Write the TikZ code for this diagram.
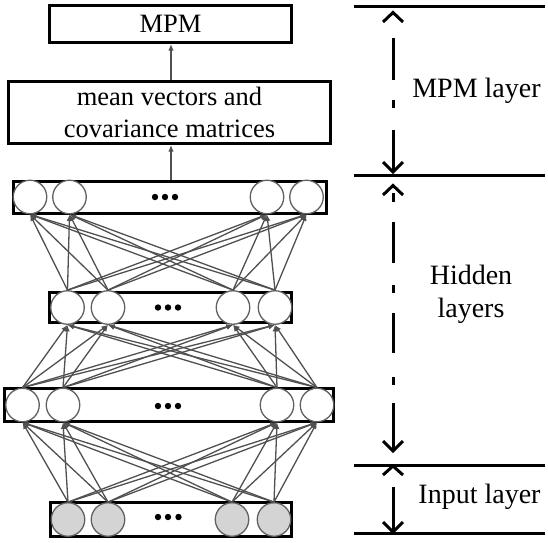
\documentclass[tikz,border=0pt]{standalone}
\usepackage{fontspec}
\setmainfont{Liberation Serif}
\usetikzlibrary{arrows.meta}
\definecolor{linkgray}{HTML}{505050}
\definecolor{nodegray}{HTML}{606060}
\definecolor{inputfill}{HTML}{D4D4D4}
\tikzset{
  layerbox/.style={draw=black, line width=3pt, inner sep=0pt, fill=white},
  textbox/.style={layerbox, font=\fontsize{26.5}{32}\selectfont, align=center},
  neuron/.style={circle, draw=nodegray, line width=1.3pt, minimum size=33.5pt, inner sep=0pt, fill=white},
  inneuron/.style={neuron, fill=inputfill},
  conn/.style={draw=linkgray, line width=1.3pt, -{Latex[length=6.5pt,width=5.5pt]}},
  sepline/.style={draw=black, line width=3pt},
  dimline/.style={draw=black, line width=3pt},
  chev/.style={draw=black, line width=3pt, line join=miter},
  rlabel/.style={font=\fontsize{28}{33}\selectfont, align=center, inner sep=0pt},
  dotmark/.style={fill=black}
}
\begin{document}
\begin{tikzpicture}[x=1pt,y=-1pt]
\useasboundingbox (0,0) rectangle (548,542);

% boxes
\node[textbox, minimum width=242pt, minimum height=37pt] (mpm) at (170.5,24) {MPM};
\node[textbox, minimum width=322pt, minimum height=62pt] (mean) at (169.5,112.5) {mean vectors and\\covariance matrices};
\node[layerbox, minimum width=313pt, minimum height=32pt] (L3) at (170,197.5) {};
\node[layerbox, minimum width=242pt, minimum height=30pt] (L2) at (170.5,307.5) {};
\node[layerbox, minimum width=329pt, minimum height=33pt] (L1) at (169,405) {};
\node[layerbox, minimum width=241pt, minimum height=34pt] (L0) at (171,519.5) {};

% neurons
\node[neuron] (t1) at (30,197) {};
\node[neuron] (t2) at (69.5,197) {};
\node[neuron] (t3) at (267,197) {};
\node[neuron] (t4) at (306.5,197) {};
\node[neuron] (m1) at (67.5,307.5) {};
\node[neuron] (m2) at (108,307.5) {};
\node[neuron] (m3) at (233,307.5) {};
\node[neuron] (m4) at (275,307.5) {};
\node[neuron] (b1) at (22.5,405) {};
\node[neuron] (b2) at (63,405) {};
\node[neuron] (b3) at (277,405) {};
\node[neuron] (b4) at (317,405) {};
\node[inneuron] (i1) at (68,519.5) {};
\node[inneuron] (i2) at (108,519.5) {};
\node[inneuron] (i3) at (232,519.5) {};
\node[inneuron] (i4) at (274,519.5) {};

% ellipsis dots
\foreach \x in {155,165,175} \fill[dotmark] (\x,197) circle (3.2pt);
\foreach \x in {158,168,178} \fill[dotmark] (\x,307.5) circle (3.2pt);
\foreach \x in {158,168,178} \fill[dotmark] (\x,406) circle (3.2pt);
\foreach \x in {158,168,178.5} \fill[dotmark] (\x,517) circle (3.2pt);

% connections
\foreach \lo/\hi in {i/b, b/m, m/t}
  \foreach \a in {1,...,4}
    \foreach \c in {1,...,4}
      \draw[conn] (\lo\a.north) -- (\hi\c.south);

\coordinate (c3) at ([xshift=1pt]L3.north);
\draw[conn] (c3) -- (c3 |- mean.south);
\coordinate (cm) at ([xshift=1.5pt]mean.north);
\draw[conn] (cm) -- (cm |- mpm.south);

% separator lines
\draw[sepline] (354,6) -- (545,6);
\draw[sepline] (354,175) -- (545,175);
\draw[sepline] (354,465) -- (545,465);
\draw[sepline] (354,533) -- (545,533);

% MPM layer dimension
\draw[chev] (383,22) -- (393,12.5) -- (403,22);
\draw[dimline] (393,38) -- (393,80);
\draw[dimline] (393,100) -- (393,108);
\draw[dimline] (393,130) -- (393,172);
\draw[chev] (383,162) -- (393,172) -- (403,162);

% Hidden layers dimension
\draw[chev] (383,195) -- (393,185.5) -- (403,195);
\draw[dimline] (393,193) -- (393,202);
\draw[dimline] (393,222) -- (393,263);
\draw[dimline] (393,285) -- (393,293);
\draw[dimline] (393,313) -- (393,353);
\draw[dimline] (393,377) -- (393,385);
\draw[dimline] (393,403) -- (393,451);
\draw[chev] (383,441) -- (393,451) -- (403,441);

% Input layer dimension
\draw[chev] (383,475) -- (393,466) -- (403,475);
\draw[dimline] (393,487) -- (393,532);
\draw[chev] (383,522) -- (393,532) -- (403,522);

% labels
\node[rlabel] (lblmpm) at (476.5,91) {MPM layer};
\node[rlabel] (lblhid) at (471,294) {Hidden\\layers};
\node[rlabel] (lblin) at (479.5,497) {Input layer};
\end{tikzpicture}
\end{document}
